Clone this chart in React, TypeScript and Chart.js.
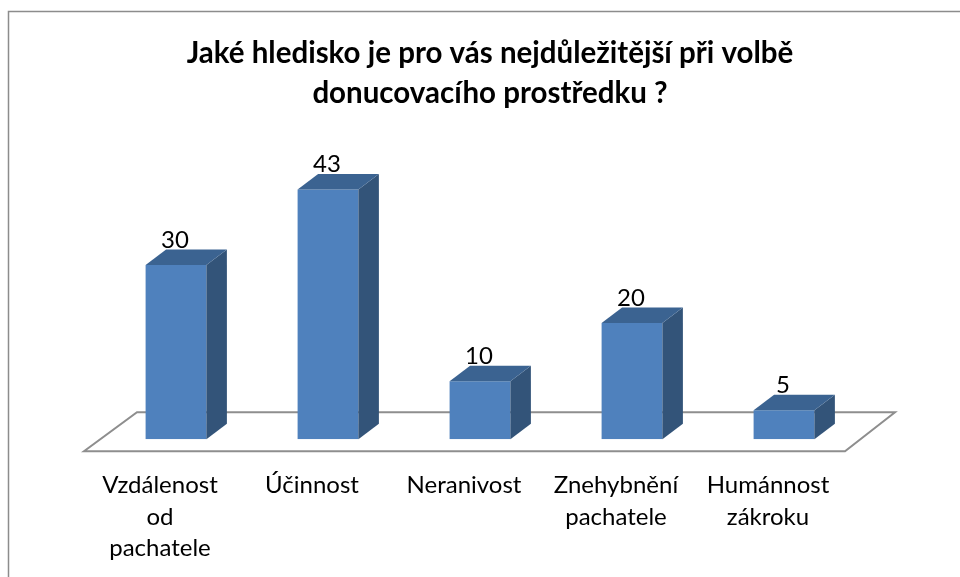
import React, { useEffect, useRef } from "react";
import { Chart, registerables } from "chart.js";

Chart.register(...registerables);

const categories: string[][] = [
  ["Vzdálenost", "od", "pachatele"],
  ["Účinnost"],
  ["Neranivost"],
  ["Znehybnění", "pachatele"],
  ["Humánnost", "zákroku"],
];
const values: number[] = [30, 43, 10, 20, 5];
const titleLines: string[] = [
  "Jaké hledisko je pro vás nejdůležitější při volbě",
  "donucovacího prostředku ?",
];

const FONT = '"Lato", "Open Sans", sans-serif';
const FRONT = "#4F81BD";
const SIDE = "#335479";
const TOP = "#3B6391";

const decor = {
  id: "decor3d",
  beforeDatasetsDraw(chart: any) {
    const ctx = chart.ctx;
    const area = chart.chartArea;
    const y0 = chart.scales.y.getPixelForValue(0);
    ctx.save();
    // outer border
    ctx.strokeStyle = "#8C8C8C";
    ctx.lineWidth = 1.5;
    ctx.strokeRect(8.5, 11.5, 980, 600);
    // title
    ctx.fillStyle = "#000";
    ctx.font = `bold 29.5px ${FONT}`;
    ctx.textAlign = "center";
    ctx.textBaseline = "alphabetic";
    ctx.fillText(titleLines[0], 490, 63);
    ctx.fillText(titleLines[1], 490, 103);
    // floor
    const fy = y0 + 12;
    const by = y0 - 27;
    ctx.beginPath();
    ctx.moveTo(area.left - 16, fy);
    ctx.lineTo(area.right - 15, fy);
    ctx.lineTo(area.right + 35, by);
    ctx.lineTo(area.left + 37, by);
    ctx.closePath();
    ctx.strokeStyle = "#8E8E8E";
    ctx.lineWidth = 2;
    ctx.stroke();
    ctx.restore();
  },
  afterDatasetsDraw(chart: any) {
    const ctx = chart.ctx;
    const meta = chart.getDatasetMeta(0);
    const dx = 20.5;
    const dy = -15.5;
    ctx.save();
    meta.data.forEach((bar: any, i: number) => {
      const half = bar.width / 2;
      const l = bar.x - half;
      const r = bar.x + half;
      const t = bar.y;
      const b = bar.base;
      ctx.fillStyle = SIDE;
      ctx.beginPath();
      ctx.moveTo(r, t);
      ctx.lineTo(r + dx, t + dy);
      ctx.lineTo(r + dx, b + dy);
      ctx.lineTo(r, b);
      ctx.closePath();
      ctx.fill();
      ctx.fillStyle = TOP;
      ctx.beginPath();
      ctx.moveTo(l, t);
      ctx.lineTo(l + dx, t + dy);
      ctx.lineTo(r + dx, t + dy);
      ctx.lineTo(r, t);
      ctx.closePath();
      ctx.fill();
      // value label
      ctx.fillStyle = "#000";
      ctx.font = `24px ${FONT}`;
      ctx.textAlign = "center";
      ctx.textBaseline = "alphabetic";
      ctx.fillText(String(values[i]), bar.x - 1, t + dy - 2);
      // category label
      const cx = bar.x - 16;
      categories[i].forEach((line, k) => {
        ctx.fillText(line, cx, 493 + k * 31.5);
      });
    });
    ctx.restore();
  },
};

export default function App() {
  const ref = useRef<HTMLCanvasElement>(null);
  useEffect(() => {
    if (!ref.current) return;
    const chart = new Chart(ref.current, {
      type: "bar",
      data: {
        labels: categories.map((c) => c.join(" ")),
        datasets: [
          {
            data: values,
            backgroundColor: FRONT,
            borderWidth: 0,
            barPercentage: 0.8,
            categoryPercentage: 0.5,
          },
        ],
      },
      options: {
        responsive: false,
        animation: false,
        events: [],
        layout: { padding: { left: 100, right: 100, top: 148.8, bottom: 137.7 } },
        scales: {
          x: { display: false },
          y: { display: false, min: 0, max: 50 },
        },
        plugins: {
          legend: { display: false },
          tooltip: { enabled: false },
          title: { display: false },
        },
      },
      plugins: [decor],
    });
    return () => chart.destroy();
  }, []);
  return (
    <div style={{ position: "absolute", left: 0, top: 0, width: 960, height: 577, background: "#fff" }}>
      <canvas ref={ref} width={960} height={577} style={{ display: "block" }} />
    </div>
  );
}
